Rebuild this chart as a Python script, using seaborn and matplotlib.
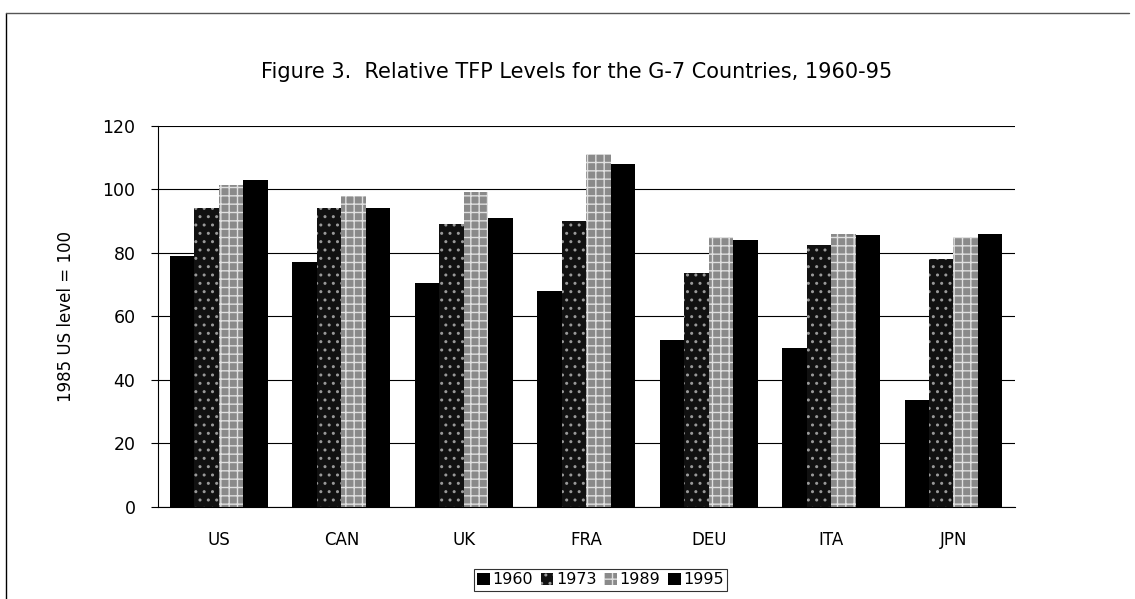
import pandas as pd
import matplotlib.pyplot as plt
import seaborn as sns
from matplotlib.patches import Patch
from matplotlib.lines import Line2D

# values (1985 US level = 100)
countries = ["US", "CAN", "UK", "FRA", "DEU", "ITA", "JPN"]
years = ["1960", "1973", "1989", "1995"]
tfp_1960 = [79, 77, 70.5, 68, 52.5, 50, 33.5]
tfp_1973 = [94, 94, 89, 90, 73.5, 82.5, 78]
tfp_1989 = [101.5, 98, 99, 111, 85, 86, 85]
tfp_1995 = [103, 94, 91, 108, 84, 85.5, 86]

df = pd.DataFrame({"1960": tfp_1960, "1973": tfp_1973,
                   "1989": tfp_1989, "1995": tfp_1995}, index=countries)
long = df.reset_index().melt(id_vars="index", var_name="year", value_name="tfp")
long.rename(columns={"index": "country"}, inplace=True)

sns.set_style("white")
plt.rcParams["font.family"] = ["DejaVu Sans"]
plt.rcParams["text.color"] = "black"
plt.rcParams["axes.labelcolor"] = "black"
plt.rcParams["xtick.color"] = "black"
plt.rcParams["ytick.color"] = "black"
plt.rcParams["hatch.linewidth"] = 1.0

colors = {"1960": "#000000", "1973": "#111111", "1989": "#8a8a8a", "1995": "#000000"}
hatches = {"1960": "", "1973": "..", "1989": "++", "1995": ""}
hatch_col = {"1960": "black", "1973": "#9a9a9a", "1989": "#e0e0e0", "1995": "black"}

fig = plt.figure(figsize=(11.35, 5.99), dpi=100)
ax = fig.add_axes([0.139, 0.154, 0.755, 0.636])

sns.barplot(data=long, x="country", y="tfp", hue="year", hue_order=years,
            palette=colors, width=0.8, saturation=1, ax=ax, legend=False)

# pattern fills
for cont, yr in zip(ax.containers, years):
    for bar in cont:
        bar.set_hatch(hatches[yr])
        bar.set_edgecolor(hatch_col[yr])
        bar.set_linewidth(0)

ax.set_ylim(0, 120)
ax.set_yticks(range(0, 121, 20))
ax.set_xlim(-0.5, 6.5)
ax.yaxis.grid(True, color="black", linewidth=0.8)
ax.set_axisbelow(True)
for s in ["top", "right"]:
    ax.spines[s].set_visible(False)
ax.spines["left"].set_color("black")
ax.spines["bottom"].set_color("black")
ax.spines["left"].set_linewidth(0.8)
ax.spines["bottom"].set_linewidth(0.8)
ax.tick_params(axis="y", left=True, length=5, width=0.8, labelsize=12.5, pad=11)
ax.tick_params(axis="x", bottom=False, labelsize=12, pad=14)
ax.set_xlabel("")
ax.set_ylabel("1985 US level = 100", fontsize=12, labelpad=20)

fig.text(0.508, 0.88, "Figure 3.  Relative TFP Levels for the G-7 Countries, 1960-95",
         ha="center", va="center", fontsize=15)

handles = [Patch(facecolor=colors[y], edgecolor=hatch_col[y], hatch=hatches[y],
                 linewidth=0) for y in years]
leg = fig.legend(handles, years, loc="center", bbox_to_anchor=(0.529, 0.032),
                 ncol=4, frameon=True, fancybox=False, fontsize=11.5,
                 handlelength=0.8, handleheight=0.8, handletextpad=0.15,
                 columnspacing=0.5, borderpad=0.2, borderaxespad=0)
leg.get_frame().set_edgecolor("black")
leg.get_frame().set_linewidth(0.8)

# outer frame (left and top edges as in the scan)
fig.add_artist(Line2D([0.005, 0.005], [0.0, 0.978], color="black", lw=1,
                      transform=fig.transFigure))
fig.add_artist(Line2D([0.005, 0.995], [0.978, 0.978], color="#555555", lw=1,
                      transform=fig.transFigure))

fig.savefig("out.png", dpi=100)
